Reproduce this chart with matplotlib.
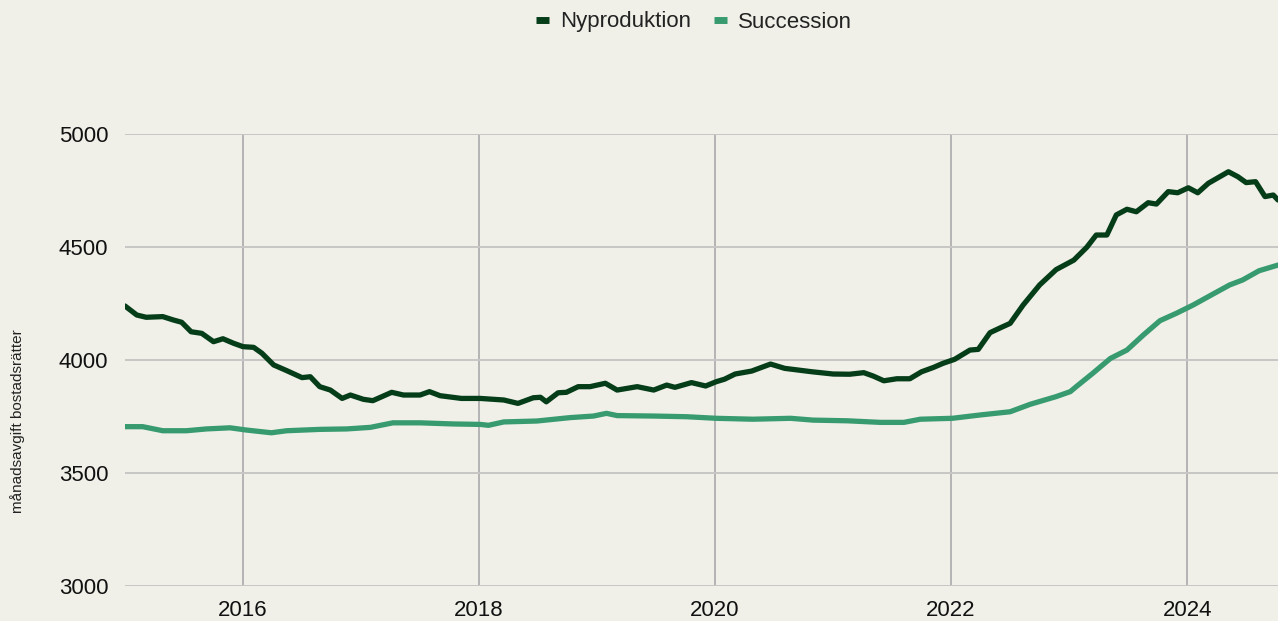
import matplotlib
matplotlib.use("Agg")
import matplotlib.pyplot as plt

plt.rcParams['font.family'] = ['Liberation Sans', 'DejaVu Sans']

# tid i decimalår, avgift i kr/mån
ny_t = [2015.00, 2015.10, 2015.18, 2015.32, 2015.41, 2015.48, 2015.56, 2015.65,
        2015.75, 2015.83, 2015.92, 2016.00, 2016.09, 2016.16, 2016.26, 2016.37,
        2016.50, 2016.57, 2016.65, 2016.74, 2016.84, 2016.91, 2017.02, 2017.10,
        2017.26, 2017.36, 2017.50, 2017.58, 2017.67, 2017.85, 2018.01, 2018.21,
        2018.33, 2018.46, 2018.52, 2018.57, 2018.67, 2018.74, 2018.84, 2018.94,
        2019.07, 2019.17, 2019.34, 2019.48, 2019.59, 2019.66, 2019.80, 2019.92,
        2020.01, 2020.08, 2020.17, 2020.31, 2020.47, 2020.59, 2020.82, 2021.00,
        2021.14, 2021.26, 2021.34, 2021.43, 2021.54, 2021.65, 2021.75, 2021.85,
        2021.93, 2022.03, 2022.16, 2022.23, 2022.33, 2022.42, 2022.50, 2022.61,
        2022.75, 2022.89, 2023.04, 2023.15, 2023.23, 2023.32, 2023.40, 2023.49,
        2023.57, 2023.67, 2023.74, 2023.84, 2023.92, 2024.01, 2024.09, 2024.18,
        2024.35, 2024.43, 2024.50, 2024.58, 2024.66, 2024.73, 2024.77]
ny_v = [4239, 4199, 4189, 4192, 4177, 4167, 4125, 4118,
        4081, 4094, 4074, 4059, 4056, 4030, 3978, 3953,
        3922, 3926, 3882, 3867, 3830, 3845, 3826, 3820,
        3857, 3845, 3845, 3860, 3842, 3830, 3830, 3823,
        3808, 3833, 3835, 3815, 3855, 3857, 3882, 3882,
        3897, 3867, 3882, 3867, 3889, 3879, 3900, 3885,
        3904, 3915, 3938, 3951, 3982, 3963, 3948, 3938,
        3937, 3944, 3929, 3908, 3917, 3917, 3948, 3967,
        3985, 4003, 4044, 4047, 4121, 4143, 4162, 4243,
        4332, 4400, 4442, 4499, 4553, 4553, 4642, 4667,
        4656, 4696, 4690, 4745, 4740, 4762, 4740, 4782,
        4833, 4811, 4785, 4789, 4723, 4730, 4708]

su_t = [2015.00, 2015.15, 2015.32, 2015.52, 2015.69, 2015.89, 2016.03, 2016.24,
        2016.37, 2016.65, 2016.88, 2017.08, 2017.27, 2017.50, 2017.78, 2018.01,
        2018.08, 2018.21, 2018.49, 2018.77, 2018.97, 2019.08, 2019.17, 2019.48,
        2019.76, 2020.01, 2020.32, 2020.64, 2020.83, 2021.12, 2021.40, 2021.60,
        2021.74, 2022.01, 2022.25, 2022.50, 2022.67, 2022.89, 2023.01, 2023.06,
        2023.20, 2023.35, 2023.49, 2023.63, 2023.77, 2023.91, 2024.05, 2024.22,
        2024.36, 2024.47, 2024.61, 2024.77]
su_v = [3705, 3705, 3687, 3687, 3695, 3700, 3690, 3678,
        3687, 3693, 3695, 3702, 3722, 3722, 3717, 3715,
        3711, 3726, 3730, 3745, 3752, 3764, 3754, 3752,
        3749, 3742, 3738, 3742, 3734, 3731, 3724, 3724,
        3738, 3742, 3757, 3771, 3804, 3838, 3860, 3882,
        3941, 4007, 4044, 4111, 4174, 4207, 4243, 4292,
        4332, 4354, 4395, 4420]

years = [2016, 2018, 2020, 2022, 2024]
y_ticks = [3000, 3500, 4000, 4500, 5000]

bg = '#f0f0e9'
c_ny = '#063d19'
c_su = '#389b6f'

fig = plt.figure(figsize=(12.78, 6.21), dpi=100, facecolor=bg)
ax = fig.add_axes([125 / 1278, 1 - 586 / 621, 1 - 125 / 1278, (586 - 134) / 621])
ax.set_facecolor(bg)

ax.plot(ny_t, ny_v, color=c_ny, lw=3.8, solid_capstyle='round',
        solid_joinstyle='round', label='Nyproduktion', zorder=3)
ax.plot(su_t, su_v, color=c_su, lw=3.8, solid_capstyle='round',
        solid_joinstyle='round', label='Succession', zorder=3)

ax.set_xlim(2015.0, 2024.77)
ax.set_ylim(3000, 5000)
ax.set_xticks(years)
ax.set_xticklabels([str(y) for y in years])
ax.set_yticks(y_ticks)
ax.tick_params(length=0, labelsize=16, colors='#111111')
ax.tick_params(axis='y', pad=12)
ax.tick_params(axis='x', pad=10)
ax.grid(axis='y', color='#c6c6c6', lw=1.4)
ax.grid(axis='x', color='#b4b4b4', lw=1.4)
ax.set_axisbelow(True)
for s in ax.spines.values():
    s.set_visible(False)

fig.text(18 / 1278, 1 - 421 / 621, 'månadsavgift bostadsrätter', rotation=90,
         ha='center', va='center', fontsize=11, color='#222222')

leg = fig.legend(loc='center', bbox_to_anchor=(0.543, 1 - 22 / 621), ncol=2,
                 frameon=False, fontsize=16, handlelength=0.6, handletextpad=0.5,
                 columnspacing=1.0)
for h in leg.get_lines():
    h.set_linewidth(5)
    h.set_solid_capstyle('butt')
for t in leg.get_texts():
    t.set_color('#222222')

fig.savefig('out.png', dpi=100, facecolor=bg)
